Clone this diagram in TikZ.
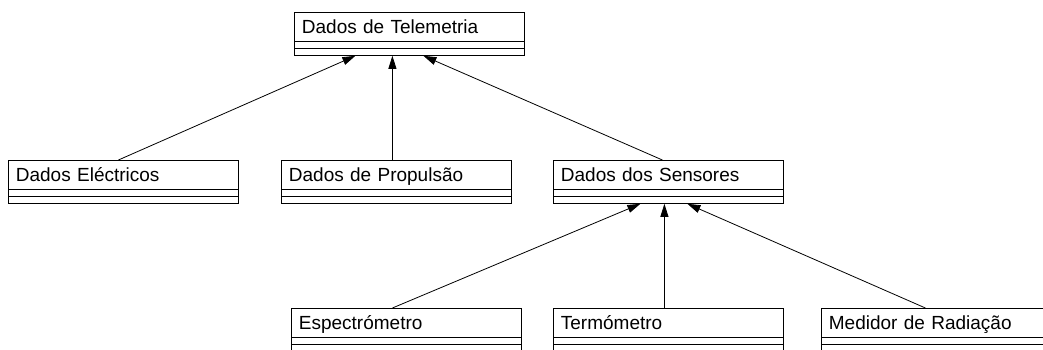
\documentclass[tikz,border=0pt]{standalone}
\usepackage{fontspec}
\setmainfont{Liberation Sans}
\usetikzlibrary{arrows.meta}

% class box: name compartment plus two empty compartments
\newcommand{\umlClass}[3]{%
  \node [cNode] (#1) at (#2) {#3};
  \draw ([yshift=-7pt]#1.south west) -- ([yshift=-7pt]#1.south east);
  \draw (#1.south west) -- ([yshift=-14pt]#1.south west) -- ([yshift=-14pt]#1.south east) -- (#1.south east);
  \coordinate (#1-b) at ([yshift=-14pt]#1.south);
}

\begin{document}
\begin{tikzpicture}[
            x=1pt, y=1pt,
            line width=0.8pt,
            cNode/.style={draw=black, rectangle, anchor=north west, minimum width=230pt, minimum height=29pt, text width=215pt, inner xsep=7.5pt, inner ysep=0pt, align=left, text height=15pt, text depth=2pt, font=\fontsize{19}{22}\selectfont},
            inhArrow/.style={-{Triangle[length=13pt, width=8pt]}}
        ]
        \clip (0,0) rectangle (1043,-349);

        \umlClass{tele}{294,-12}{Dados de Telemetria}
        \umlClass{elec}{8,-160}{Dados Eléctricos}
        \umlClass{prop}{281,-160}{Dados de Propulsão}
        \umlClass{sens}{553,-160}{Dados dos Sensores}
        \umlClass{espe}{291,-308}{Espectrómetro}
        \umlClass{term}{553,-308}{Termómetro}
        \umlClass{medi}{821,-308}{Medidor de Radiação}

        \draw [inhArrow] ([xshift=-5pt]elec.north) -- ([xshift=-54pt]tele-b);
        \draw [inhArrow] ([xshift=-4pt]prop.north) -- ([xshift=-17pt]tele-b);
        \draw [inhArrow] ([xshift=-6pt]sens.north) -- ([xshift=14pt]tele-b);

        \draw [inhArrow] ([xshift=-14pt]espe.north) -- ([xshift=-28pt]sens-b);
        \draw [inhArrow] ([xshift=-4pt]term.north) -- ([xshift=-4pt]sens-b);
        \draw [inhArrow] ([xshift=-11pt]medi.north) -- ([xshift=19pt]sens-b);

    \end{tikzpicture}
\end{document}
